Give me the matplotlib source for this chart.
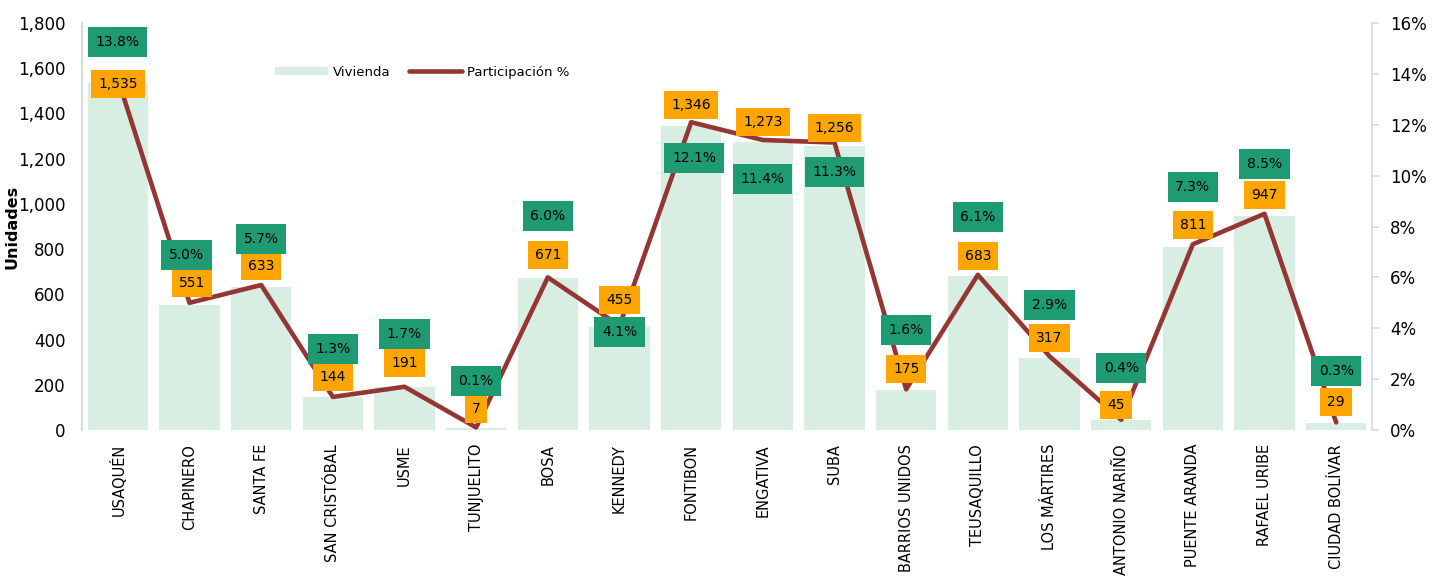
import matplotlib
matplotlib.use("Agg")
import matplotlib.pyplot as plt
from matplotlib.patches import Patch
from matplotlib.lines import Line2D
from matplotlib.ticker import FuncFormatter, MultipleLocator

# ---------------- data ----------------
localidades = ["USAQUÉN", "CHAPINERO", "SANTA FE", "SAN CRISTÓBAL", "USME", "TUNJUELITO",
               "BOSA", "KENNEDY", "FONTIBON", "ENGATIVA", "SUBA", "BARRIOS UNIDOS",
               "TEUSAQUILLO", "LOS MÁRTIRES", "ANTONIO NARIÑO", "PUENTE ARANDA",
               "RAFAEL URIBE", "CIUDAD BOLÍVAR"]
vivienda = [1535, 551, 633, 144, 191, 7, 671, 455, 1346, 1273, 1256, 175, 683, 317, 45, 811, 947, 29]
participacion = [13.8, 5.0, 5.7, 1.3, 1.7, 0.1, 6.0, 4.1, 12.1, 11.4, 11.3, 1.6, 6.1, 2.9, 0.4, 7.3, 8.5, 0.3]

# label placement (layout only, in left-axis units)
pct_label_y = [1716, 774, 845, 358, 425, 217, 946, 433, 1203, 1110, 1141, 442, 942, 553, 274, 1075, 1176, 261]
val_label_y = [1530, 650, 725, 234, 296, 93, 774, 575, 1437, 1362, 1336, 270, 770, 407, 111, 907, 1039, 124]
pct_label_dx = [0, -0.04, 0, 0, 0, 0, 0, 0, 0.04, 0, 0, 0, 0, 0, 0, 0, 0, 0]
val_label_dx = [0, 0.04, 0, 0, 0, 0, 0, 0, 0, 0, 0, 0, 0, 0, -0.07, 0, 0, 0]

BAR_C = "#D8EEE2"
LINE_C = "#943634"
GREEN_C = "#1E9B72"
ORANGE_C = "#FFA500"
GRID_C = "#D9D9D9"

plt.rcParams['font.family'] = ['DejaVu Sans']

W, H = 1434, 584
fig = plt.figure(figsize=(W / 100, H / 100), dpi=100)
ax = fig.add_axes([82 / W, (H - 430) / H, (1372 - 82) / W, (430 - 23) / H])
ax2 = ax.twinx()

x = list(range(len(localidades)))
ax.bar(x, vivienda, width=0.84, color=BAR_C, zorder=1)
ax.set_xlim(-0.5, len(localidades) - 0.5)
ax.set_ylim(0, 1800)
ax.yaxis.set_major_locator(MultipleLocator(200))
ax.yaxis.set_major_formatter(FuncFormatter(lambda v, p: f"{int(v):,}"))

ax2.plot(x, [p / 100 for p in participacion], color=LINE_C, lw=3.3,
         solid_capstyle='round', solid_joinstyle='round', zorder=3)
ax2.set_ylim(0, 0.16)
ax2.yaxis.set_major_locator(MultipleLocator(0.02))
ax2.yaxis.set_major_formatter(FuncFormatter(lambda v, p: f"{v*100:.0f}%"))

for a in (ax, ax2):
    for s in ("top", "bottom"):
        a.spines[s].set_visible(False)
ax.spines["right"].set_visible(False)
ax.spines["left"].set_color(GRID_C)
ax.spines["left"].set_linewidth(1.5)
ax2.spines["left"].set_visible(False)
ax2.spines["right"].set_color(GRID_C)
ax2.spines["right"].set_linewidth(1.2)

ax.tick_params(axis='y', length=0, labelsize=12, pad=12, colors='#000000')
ax.tick_params(axis='x', length=0, pad=10)
ax2.tick_params(axis='y', length=5, color=GRID_C, width=1.2, labelsize=12, pad=8)
ax.set_xticks(x)
ax.set_xticklabels(localidades, rotation=90, fontsize=10.5)
ax.set_ylabel("Unidades", fontsize=11.5, fontweight='bold')
ax.yaxis.set_label_coords(-62 / 1290, 0.5)

ax2.set_zorder(ax.get_zorder() + 1)
ax.patch.set_visible(False)

for i in x:
    ax2.text(i + val_label_dx[i], val_label_y[i] / 1800 * 0.16, f"{vivienda[i]:,}",
             ha='center', va='center', fontsize=10, color='black', zorder=6,
             bbox=dict(boxstyle='square,pad=0.5', fc=ORANGE_C, ec='none'))
    ax2.text(i + pct_label_dx[i], pct_label_y[i] / 1800 * 0.16, f"{participacion[i]:.1f}%",
             ha='center', va='center', fontsize=10, color='black', zorder=6,
             bbox=dict(boxstyle='square,pad=0.55', fc=GREEN_C, ec='none'))

handles = [Patch(facecolor=BAR_C, edgecolor='none', label='Vivienda'),
           Line2D([0], [0], color=LINE_C, lw=3.3, solid_capstyle='round', label='Participación %')]
fig.legend(handles=handles, loc='center left', bbox_to_anchor=(263 / W, 1 - 72 / H),
           ncol=2, frameon=False, fontsize=9.5, handlelength=4.0, handleheight=0.6,
           handletextpad=0.4, columnspacing=1.4)

fig.savefig("out.png", dpi=100)
